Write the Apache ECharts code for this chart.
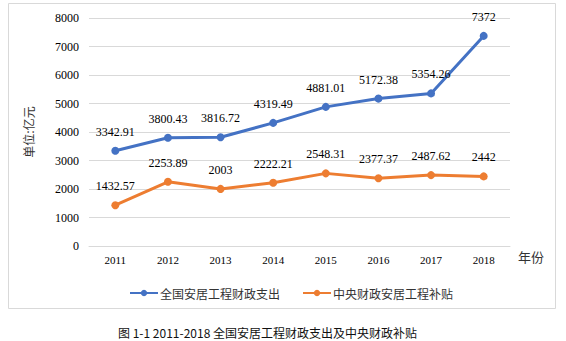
<!DOCTYPE html>
<html><head><meta charset="utf-8">
<script src="https://cdn.jsdelivr.net/npm/echarts@6/dist/echarts.min.js"></script>
<style>html,body{margin:0;padding:0;background:#fff;}#c{width:566px;height:341px;}</style>
</head><body><div id="c"></div>
<script>
var years = ['2011','2012','2013','2014','2015','2016','2017','2018'];
var seriesNames = ['全国安居工程财政支出','中央财政安居工程补贴'];
var totalSpend = [3342.91, 3800.43, 3816.72, 4319.49, 4881.01, 5172.38, 5354.26, 7372];
var centralSubsidy = [1432.57, 2253.89, 2003, 2222.21, 2548.31, 2377.37, 2487.62, 2442];
var yTicks = {min: 0, max: 8000, interval: 1000};

var chart = echarts.init(document.getElementById('c'), null, {renderer: 'svg'});
var serif = 'Liberation Serif';
var cjk = 'Noto Sans CJK SC';
function mk(name, data, color) {
  return {
    name: name, type: 'line', data: data,
    symbol: 'circle', symbolSize: 8,
    lineStyle: {color: color, width: 3},
    itemStyle: {color: color},
    label: {show: true, position: 'top', distance: 9, color: '#000',
      fontFamily: serif, fontSize: 12,
      formatter: function(p){ return String(p.value); }}
  };
}
chart.setOption({
  animation: false,
  backgroundColor: '#fff',
  grid: {left: 89, right: 56, top: 18, bottom: 95},
  graphic: [
    {type: 'rect', shape: {x: 8.5, y: 3.5, width: 547, height: 305}, style: {fill: 'none', stroke: '#d9d9d9', lineWidth: 1}, z: -1},
    {type: 'text', left: 518, top: 250, style: {text: '年份', fontFamily: cjk, fontSize: 13, fill: '#333'}},
    {type: 'text', left: 118, top: 326, style: {text: '图 1-1 2011-2018 全国安居工程财政支出及中央财政补贴', fontFamily: cjk, fontSize: 12, fill: '#111'}}
  ],
  legend: {
    top: 282, left: 124, itemWidth: 28, itemHeight: 8, itemGap: 22,
    textStyle: {fontFamily: cjk, fontSize: 12, color: '#333', padding: [0,0,0,-3]},
    data: seriesNames
  },
  xAxis: {
    type: 'category', data: years, boundaryGap: true,
    axisLine: {show: true, lineStyle: {color: '#d9d9d9'}},
    axisTick: {show: false},
    axisLabel: {color: '#000', fontFamily: serif, fontSize: 11, margin: 8}
  },
  yAxis: {
    type: 'value', min: yTicks.min, max: yTicks.max, interval: yTicks.interval,
    name: '单位:亿元', nameLocation: 'middle', nameRotate: 90, nameGap: 55,
    nameTextStyle: {fontFamily: cjk, fontSize: 12, color: '#333'},
    axisLine: {show: false}, axisTick: {show: false},
    axisLabel: {color: '#000', fontFamily: serif, fontSize: 12, margin: 10,
      formatter: function(v){ return String(v); }},
    splitLine: {lineStyle: {color: '#d9d9d9'}}
  },
  series: [mk(seriesNames[0], totalSpend, '#4472C4'), mk(seriesNames[1], centralSubsidy, '#ED7D31')]
});
</script></body></html>
